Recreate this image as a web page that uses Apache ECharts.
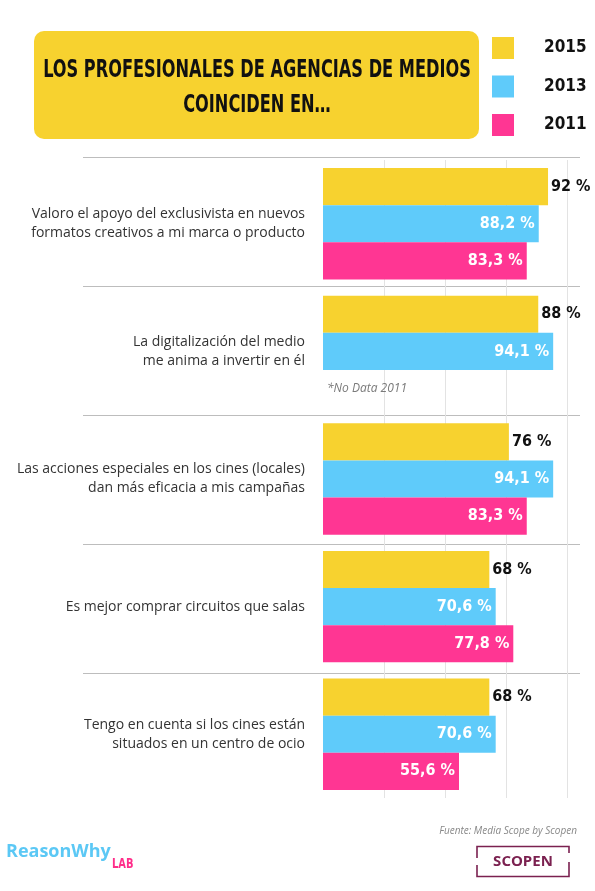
<!DOCTYPE html>
<html>
<head>
<meta charset="utf-8">
<script src="https://cdn.jsdelivr.net/npm/echarts@6/dist/echarts.min.js"></script>
<style>
html,body{margin:0;padding:0;background:#fff;}
#chart{width:595px;height:891px;}
</style>
</head>
<body>
<div id="chart"></div>
<script>
// ---- data ----
var categories = [
  "Valoro el apoyo del exclusivista en nuevos\nformatos creativos a mi marca o producto",
  "La digitalización del medio\nme anima a invertir en él",
  "Las acciones especiales en los cines (locales)\ndan más eficacia a mis campañas",
  "Es mejor comprar circuitos que salas",
  "Tengo en cuenta si los cines están\nsituados en un centro de ocio"
];
var seriesNames = ["2015", "2013", "2011"];
var values2015 = [92, 88, 76, 68, 68];
var values2013 = [88.2, 94.1, 94.1, 70.6, 70.6];
var values2011 = [83.3, null, 83.3, 77.8, 55.6];
var xTicks = [0, 25, 50, 75, 100];
var titleLines = ["LOS PROFESIONALES DE AGENCIAS DE MEDIOS", "COINCIDEN EN…"];
var noDataNote = "*No Data 2011";
var sourceText = "Fuente: Media Scope by Scopen";

// ---- style ----
var YELLOW = '#F7D22F', BLUE = '#5FCBFA', PINK = '#FF3693';
var COND = "'DejaVu Sans Condensed','Liberation Sans Narrow',sans-serif";
var OPEN = "'Open Sans','Noto Sans',sans-serif";

function fmt(v) { return String(v).replace('.', ',') + ' %'; }

var chart = echarts.init(document.getElementById('chart'), null, {renderer: 'canvas'});

var data2011 = values2011.map(function (v) {
  if (v == null) {
    return {
      value: 0,
      label: {
        show: true, position: 'right', distance: 4,
        formatter: noDataNote, color: '#7a7a7a', fontStyle: 'italic',
        fontWeight: 'normal', fontSize: 12, fontFamily: OPEN
      }
    };
  }
  return v;
});

function insideLabel() {
  return {
    show: true, position: 'insideRight', distance: 4, color: '#fff',
    fontFamily: COND, fontWeight: 'bold', fontSize: 16,
    formatter: function (p) { return fmt(p.value); }
  };
}

var option = {
  backgroundColor: '#fff',
  animation: false,
  legend: {
    data: seriesNames,
    orient: 'vertical',
    left: 492, top: 37, padding: 0,
    itemWidth: 22, itemHeight: 22, itemGap: 16.5,
    icon: 'rect',
    textStyle: {
      fontFamily: COND, fontWeight: 'bold', fontSize: 17, color: '#111',
      padding: [0, 0, 0, 25]
    },
    selectedMode: false
  },
  grid: [
    {left: 83, right: 15, top: 157, height: 516},
    {left: 323, right: 27.4, top: 160, height: 638}
  ],
  xAxis: [
    {gridIndex: 0, type: 'value', min: 0, max: 1, show: false},
    {
      gridIndex: 1, type: 'value', min: xTicks[0], max: xTicks[xTicks.length - 1],
      interval: xTicks[1] - xTicks[0],
      axisLabel: {show: false}, axisLine: {show: false}, axisTick: {show: false},
      splitLine: {show: true, showMinLine: false, lineStyle: {color: '#e3e3e3', width: 1}}
    }
  ],
  yAxis: [
    {
      gridIndex: 0, type: 'category', boundaryGap: false, inverse: true,
      data: categories.map(function (c, i) { return 's' + i; }),
      axisLabel: {show: false}, axisLine: {show: false}, axisTick: {show: false},
      splitLine: {show: true, lineStyle: {color: '#bdbdbd', width: 1}}
    },
    {
      gridIndex: 1, type: 'category', inverse: true, data: categories,
      axisLine: {show: false}, axisTick: {show: false},
      axisLabel: {
        margin: 18, align: 'right', color: '#333', fontFamily: OPEN,
        fontSize: 14, lineHeight: 19
      }
    }
  ],
  series: [
    {
      name: seriesNames[0], type: 'bar', xAxisIndex: 1, yAxisIndex: 1,
      data: values2015, itemStyle: {color: YELLOW},
      barGap: 0, barCategoryGap: '12.7%',
      label: {
        show: true, position: 'right', distance: 3, color: '#111',
        fontFamily: COND, fontWeight: 'bold', fontSize: 16,
        formatter: function (p) { return fmt(p.value); }
      }
    },
    {
      name: seriesNames[1], type: 'bar', xAxisIndex: 1, yAxisIndex: 1,
      data: values2013, itemStyle: {color: BLUE},
      barGap: 0, barCategoryGap: '12.7%', label: insideLabel()
    },
    {
      name: seriesNames[2], type: 'bar', xAxisIndex: 1, yAxisIndex: 1,
      data: data2011, itemStyle: {color: PINK},
      barGap: 0, barCategoryGap: '12.7%', label: insideLabel()
    }
  ],
  graphic: [
    {type: 'rect', left: 34, top: 31, shape: {width: 445, height: 108, r: 10}, style: {fill: YELLOW}, z: 0},
    {type: 'text', x: 257, y: 70, scaleY: 1.4,
      style: {text: titleLines[0], fill: '#111', font: "bold 18px " + COND, align: 'center', verticalAlign: 'middle'}, z: 1},
    {type: 'text', x: 257, y: 105, scaleY: 1.4,
      style: {text: titleLines[1], fill: '#111', font: "bold 18px " + COND, align: 'center', verticalAlign: 'middle'}, z: 1},
    {type: 'text', x: 577, y: 831,
      style: {text: sourceText, fill: '#888', font: "italic 10px " + OPEN, align: 'right', verticalAlign: 'middle'}},
    {type: 'text', x: 6, y: 852,
      style: {text: 'ReasonWhy', fill: '#5BC8F5', font: "bold 18px " + OPEN, align: 'left', verticalAlign: 'middle'}},
    {type: 'text', x: 112, y: 865, scaleY: 1.2,
      style: {text: 'LAB', fill: '#FF2E8A', font: "bold 11px " + COND, align: 'left', verticalAlign: 'middle'}},
    {type: 'polyline', shape: {points: [[477, 858], [477, 846.5], [569, 846.5], [569, 853]]},
      style: {stroke: '#7B2150', lineWidth: 1.6, fill: null}},
    {type: 'polyline', shape: {points: [[477, 865], [477, 876.5], [569, 876.5], [569, 862]]},
      style: {stroke: '#7B2150', lineWidth: 1.6, fill: null}},
    {type: 'text', x: 523, y: 862,
      style: {text: 'SCOPEN', fill: '#7B2150', font: "bold 15px " + OPEN, align: 'center', verticalAlign: 'middle'}}
  ]
};
chart.setOption(option);
</script>
</body>
</html>
